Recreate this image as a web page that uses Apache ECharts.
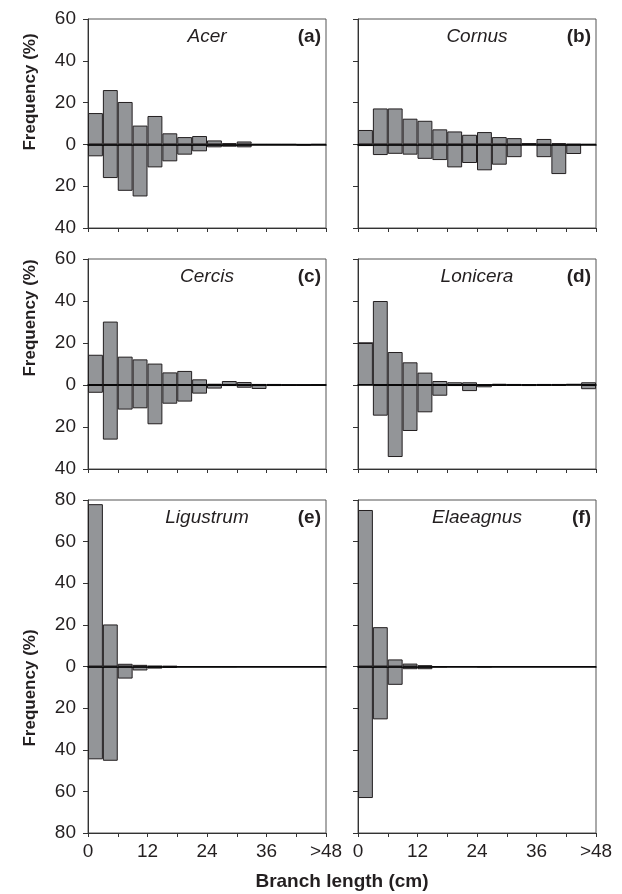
<!DOCTYPE html>
<html><head><meta charset="utf-8">
<script src="https://cdn.jsdelivr.net/npm/echarts@6/dist/echarts.min.js"></script>
<style>html,body{margin:0;padding:0;background:#fff}#c{width:622px;height:894px}</style>
</head><body><div id="c"></div>
<script>
// bins of 3 cm, 0..48
const bins = ['0-3','3-6','6-9','9-12','12-15','15-18','18-21','21-24','24-27','27-30','30-33','33-36','36-39','39-42','42-45','45-48'];
const xTickValues = [0, 12, 24, 36, 48];
const xTickLabels = ['0', '12', '24', '36', '>48'];

const species = ['Acer', 'Cornus', 'Cercis', 'Lonicera', 'Ligustrum', 'Elaeagnus'];
const panelTags = ['(a)', '(b)', '(c)', '(d)', '(e)', '(f)'];

const acerUp      = [15, 26, 20.3, 9, 13.6, 5.3, 3.5, 4, 1.9, 0.6, 1.4, 0, 0, 0, 0, 0];
const acerDown    = [5.7, 16.1, 22.2, 24.9, 11, 8.1, 4.9, 3.3, 1.4, 1.1, 1.4, 0, 0, 0, 0.4, 0];
const cornusUp    = [6.9, 17.2, 17.2, 12.3, 11.3, 7.2, 6.2, 4.6, 5.9, 3.5, 3.0, 0.3, 2.6, 0.6, 0.2, 0];
const cornusDown  = [0.8, 5.1, 4.5, 4.9, 6.9, 7.5, 11, 8.9, 12.4, 9.7, 6.1, 0, 6.1, 14.2, 4.6, 0];
const cercisUp    = [14.4, 30.2, 13.5, 12.2, 10.2, 6.0, 6.7, 2.7, 0.6, 1.9, 1.4, 0.5, 0.5, 0, 0, 0];
const cercisDown  = [3.7, 26, 11.7, 11.1, 18.7, 8.9, 7.9, 4.1, 1.7, 0.5, 1.3, 1.9, 0.5, 0.3, 0.3, 0];
const loniceraUp  = [20, 40, 15.7, 10.8, 5.9, 1.9, 1.3, 1.3, 0.2, 0.6, 0.5, 0.3, 0.5, 0.5, 0.3, 1.3];
const loniceraDown= [0, 14.6, 34.3, 21.9, 13, 5.1, 0.5, 2.9, 1.1, 0.3, 0.3, 0.5, 0.3, 0.3, 0, 2];
const ligustrumUp = [78, 20.2, 1.3, 0.8, 0.3, 0.2, 0, 0, 0, 0, 0, 0, 0, 0, 0, 0];
const ligustrumDown=[44.6, 45.3, 5.8, 1.9, 1, 0.6, 0.1, 0.1, 0.1, 0.1, 0, 0, 0, 0, 0, 0];
const elaeagnusUp = [75.2, 18.9, 3.4, 1.4, 0.6, 0, 0, 0, 0, 0, 0, 0, 0, 0, 0, 0];
const elaeagnusDown=[63.2, 25.4, 8.8, 1.3, 1.3, 0.2, 0, 0, 0.2, 0, 0, 0, 0, 0, 0, 0];

const upData = [acerUp, cornusUp, cercisUp, loniceraUp, ligustrumUp, elaeagnusUp];
const downData = [acerDown, cornusDown, cercisDown, loniceraDown, ligustrumDown, elaeagnusDown];
const yRanges = [[-40, 60], [-40, 60], [-40, 60], [-40, 60], [-80, 80], [-80, 80]];

const TXT = '#231f20';
const FONT = 'Liberation Sans, Arial, sans-serif';
const colLeft = [88, 358];
const colWidth = 238;
const rowTop = [19, 259, 500];
const rowHeight = [209, 210, 333];

const grids = [], xAxes = [], yAxes = [], series = [], graphics = [];
for (let i = 0; i < 6; i++) {
  const r = Math.floor(i / 2), c = i % 2;
  grids.push({left: colLeft[c], top: rowTop[r], width: colWidth, height: rowHeight[r],
    show: true, borderColor: '#555', borderWidth: 1, backgroundColor: 'transparent'});
  const bottomRow = r === 2;
  // value axis for ticks / labels
  xAxes.push({type: 'value', gridIndex: i, min: 0, max: 48, interval: 6, position: 'bottom',
    axisLine: {onZero: false, lineStyle: {color: '#333', width: 1}},
    axisTick: {show: true, length: 4, lineStyle: {color: '#333'}},
    splitLine: {show: false},
    axisLabel: {show: bottomRow, margin: 9, color: TXT, fontSize: 19, fontFamily: FONT,
      showMinLabel: true, showMaxLabel: true,
      formatter: v => { const k = xTickValues.indexOf(v); return k >= 0 ? xTickLabels[k] : ''; }}});
  // category axis for bars (zero line)
  xAxes.push({type: 'category', gridIndex: i, data: bins, z: 10,
    axisLine: {show: true, onZero: true, lineStyle: {color: '#000', width: 1.5}},
    axisTick: {show: false}, axisLabel: {show: false}, splitLine: {show: false}});
  yAxes.push({type: 'value', gridIndex: i, min: yRanges[i][0], max: yRanges[i][1], interval: 20,
    axisLine: {show: true, lineStyle: {color: '#333', width: 1}},
    axisTick: {show: true, length: 5, lineStyle: {color: '#333'}},
    splitLine: {show: false},
    axisLabel: {show: c === 0, margin: 12, color: TXT, fontSize: 19, fontFamily: FONT,
      formatter: v => String(Math.abs(v))}});
  const barStyle = {color: '#939598', borderColor: '#231f20', borderWidth: 1};
  series.push({type: 'bar', xAxisIndex: 2 * i + 1, yAxisIndex: i, stack: 's' + i,
    barCategoryGap: '0%', data: upData[i], itemStyle: barStyle, silent: true, animation: false});
  series.push({type: 'bar', xAxisIndex: 2 * i + 1, yAxisIndex: i, stack: 's' + i,
    barCategoryGap: '0%', data: downData[i].map(v => -v), itemStyle: barStyle, silent: true, animation: false});
  const cx = colLeft[c] + colWidth / 2;
  graphics.push({type: 'text', x: cx, y: rowTop[r] + 18, z: 100,
    style: {text: species[i], font: 'italic 19px ' + FONT, fill: TXT,
      textAlign: 'center', textVerticalAlign: 'middle', align: 'center', verticalAlign: 'middle'}});
  graphics.push({type: 'text', x: colLeft[c] + colWidth - 5, y: rowTop[r] + 18, z: 100,
    style: {text: panelTags[i], font: 'bold 19px ' + FONT, fill: TXT,
      textAlign: 'right', textVerticalAlign: 'middle', align: 'right', verticalAlign: 'middle'}});
}
const yTitleY = [92, 318, 688];
yTitleY.forEach(y => graphics.push({type: 'text', x: 30, y: y, rotation: Math.PI / 2, z: 100,
  style: {text: 'Frequency (%)', font: 'bold 17px ' + FONT, fill: TXT,
    textAlign: 'center', textVerticalAlign: 'middle', align: 'center', verticalAlign: 'middle'}}));
graphics.push({type: 'text', x: 342, y: 882, z: 100,
  style: {text: 'Branch length (cm)', font: 'bold 19px ' + FONT, fill: TXT,
    textAlign: 'center', textVerticalAlign: 'middle', align: 'center', verticalAlign: 'middle'}});

const chart = echarts.init(document.getElementById('c'), null, {renderer: 'canvas'});
chart.setOption({animation: false, grid: grids, xAxis: xAxes, yAxis: yAxes, series: series, graphic: graphics});
</script></body></html>
